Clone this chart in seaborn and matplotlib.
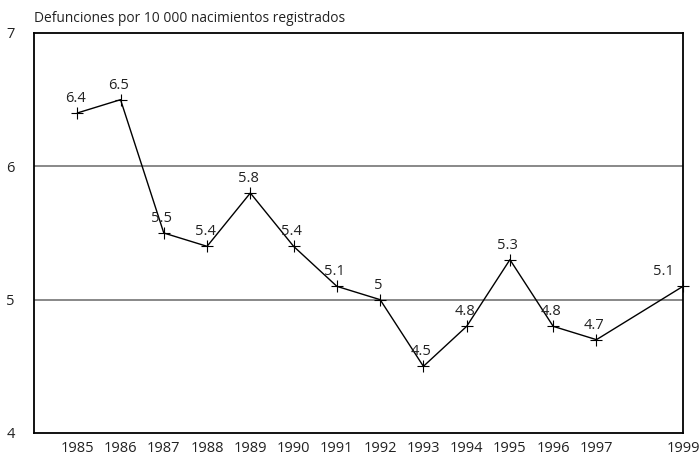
import matplotlib
matplotlib.use("Agg")
import matplotlib.pyplot as plt
import seaborn as sns
import pandas as pd

years = [1985, 1986, 1987, 1988, 1989, 1990, 1991, 1992, 1993, 1994, 1995, 1996, 1997, 1999]
rates = [6.4, 6.5, 5.5, 5.4, 5.8, 5.4, 5.1, 5.0, 4.5, 4.8, 5.3, 4.8, 4.7, 5.1]
labels = ["6.4", "6.5", "5.5", "5.4", "5.8", "5.4", "5.1", "5", "4.5", "4.8", "5.3", "4.8", "4.7", "5.1"]
ytick_vals = [4, 5, 6, 7]
title = "Defunciones por 10 000 nacimientos registrados"

sns.set_theme(style="white")
plt.rcParams['font.family'] = ['Open Sans', 'DejaVu Sans']

df = pd.DataFrame({"year": years, "rate": rates})

fig = plt.figure(figsize=(7, 4.59), dpi=100)
ax = fig.add_axes([34/700, 1-433/459, (683-34)/700, (433-33)/459])

for y in [5, 6]:
    ax.axhline(y, color="#7f7f7f", lw=1.3, zorder=1)

sns.lineplot(data=df, x="year", y="rate", ax=ax, color="black", lw=1.0,
             marker="+", markersize=8, markeredgewidth=0.8, markeredgecolor="black",
             zorder=3, clip_on=False)

for i, (x, y, t) in enumerate(zip(years, rates, labels)):
    dx = -2 if i < len(years) - 1 else -20
    ax.annotate(t, (x, y), xytext=(dx, 7), textcoords="offset pixels",
                ha="center", va="bottom", fontsize=10.5, color="#222222")

ax.set_xlim(1984, 1999)
ax.set_ylim(4, 7)
ax.set_xticks(years)
ax.set_xticklabels([str(y) for y in years], fontsize=10.5, color="#222222")
ax.set_yticks(ytick_vals)
ax.set_yticklabels([str(v) for v in ytick_vals], fontsize=10.5, color="#222222")
ax.tick_params(axis="y", length=0, pad=14)
ax.tick_params(axis="x", length=0, pad=6)
ax.set_xlabel("")
ax.set_ylabel("")
for s in ax.spines.values():
    s.set_color("black")
    s.set_linewidth(1.3)

fig.text(34/700, 1-18/459, title, ha="left", va="center", fontsize=9.9, color="#222222")

fig.savefig("out.png", dpi=100)
